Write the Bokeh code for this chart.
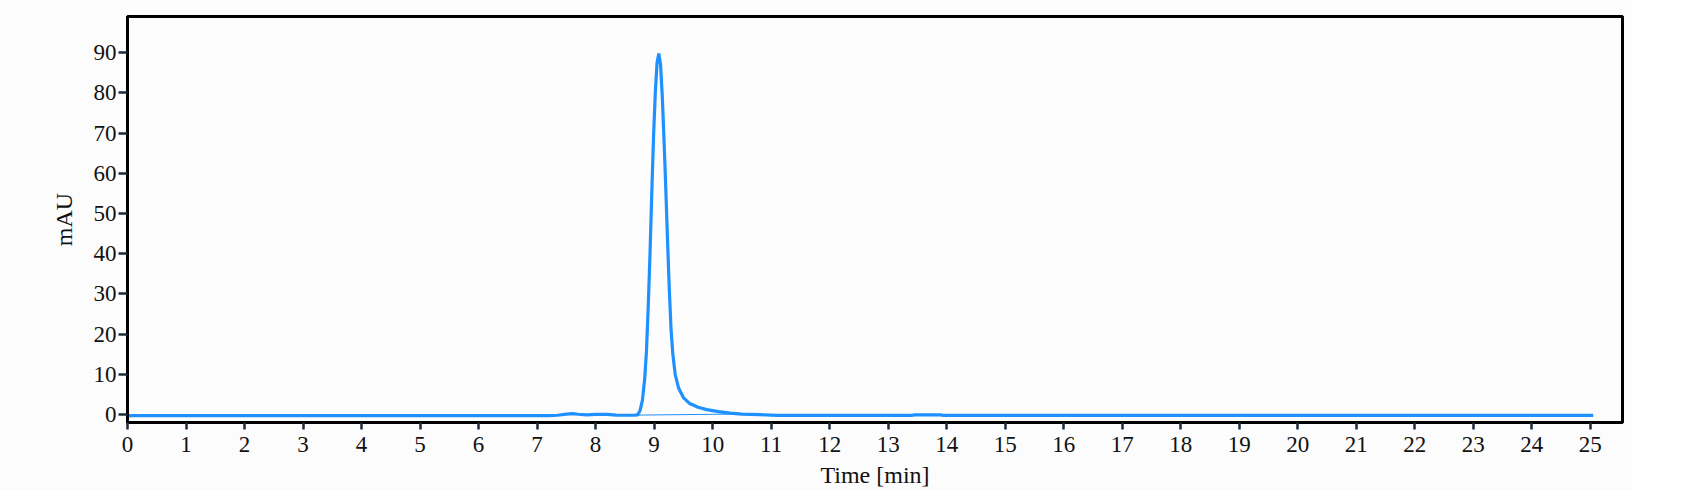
from bokeh.plotting import figure
from bokeh.models import Range1d, FixedTicker
from bokeh.embed import file_html
from bokeh.resources import INLINE

# Chromatogram trace (time in min, absorbance in mAU)
time_min = [0.0, 7.2, 7.35, 7.5, 7.6, 7.7, 7.85, 8.0, 8.1, 8.2, 8.35, 8.5, 8.65,
            8.72, 8.76, 8.8, 8.84, 8.87, 8.9, 8.93, 8.96, 8.99, 9.02, 9.05, 9.08,
            9.11, 9.14, 9.17, 9.2, 9.23, 9.26, 9.29, 9.32, 9.36, 9.42, 9.5, 9.6,
            9.75, 9.9, 10.1, 10.3, 10.5, 10.8, 11.0, 11.1, 13.4, 13.45, 13.9,
            13.95, 25.05]
signal_mau = [-0.3, -0.3, -0.2, 0.1, 0.2, 0.05, -0.1, 0.0, 0.05, 0.0, -0.15, -0.2,
              -0.2, -0.1, 1.0, 3.5, 9.0, 16.0, 27.0, 40.0, 55.0, 69.0, 80.0, 87.5,
              89.8, 87.0, 79.0, 68.0, 56.0, 43.0, 31.0, 21.0, 15.0, 10.0, 6.5, 4.2,
              2.8, 1.8, 1.2, 0.7, 0.35, 0.1, -0.05, -0.15, -0.25, -0.25, -0.1, -0.1,
              -0.25, -0.25]

# Integration baseline under the peak
base_time = [8.74, 10.45]
base_mau = [-0.15, 0.1]

x_ticks = list(range(0, 26))
y_ticks = list(range(0, 100, 10))

FONT = "Liberation Serif"

p = figure(width=1632, height=490, output_backend="svg", toolbar_location=None,
           x_range=Range1d(0, 25.55), y_range=Range1d(-2, 99),
           min_border_left=127, min_border_top=16, min_border_right=10,
           min_border_bottom=67)

p.background_fill_color = "#fdfdfd"
p.border_fill_color = "#fcfcfc"
p.outline_line_color = "black"
p.outline_line_width = 3
p.xgrid.visible = False
p.ygrid.visible = False

p.line(time_min, signal_mau, line_color="#1e90ff", line_width=3.2)
p.line(base_time, base_mau, line_color="#1e90ff", line_width=1)

for ax in (p.xaxis[0], p.yaxis[0]):
    ax.axis_line_color = "black"
    ax.axis_line_width = 3
    ax.major_tick_line_color = "#1c2b3a"
    ax.major_tick_line_width = 2.5
    ax.major_tick_in = 0
    ax.minor_tick_line_color = None
    ax.major_label_text_font = FONT
    ax.major_label_text_font_size = "23px"
    ax.major_label_text_color = "#111111"
    ax.axis_label_text_font = FONT
    ax.axis_label_text_font_size = "24px"
    ax.axis_label_text_font_style = "normal"
    ax.axis_label_text_color = "#111111"

p.xaxis.ticker = FixedTicker(ticks=x_ticks)
p.yaxis.ticker = FixedTicker(ticks=y_ticks)
p.xaxis.major_tick_out = 7
p.yaxis.major_tick_out = 9
p.xaxis.major_label_standoff = 7
p.yaxis.major_label_standoff = 2
p.xaxis.axis_label = "Time [min]"
p.yaxis.axis_label = "mAU"
p.xaxis.axis_label_standoff = 7
p.yaxis.axis_label_standoff = 14

open("out.html", "w").write(file_html(p, INLINE))
